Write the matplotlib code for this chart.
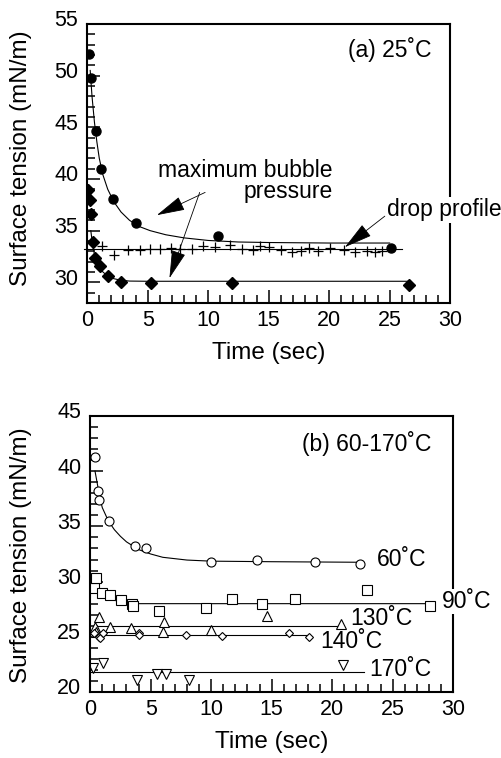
import matplotlib
matplotlib.use('Agg')
import matplotlib.pyplot as plt
import matplotlib.transforms as mtransforms
from matplotlib.ticker import MultipleLocator

plt.rcParams['font.family'] = ['Liberation Sans', 'DejaVu Sans']

# ---- panel (a), 25 C ----
# maximum bubble pressure, filled circles
circ_t = [0.19, 0.3, 0.74, 1.13, 2.1, 4.0, 10.8, 25.1]
circ_y = [52.1, 49.8, 44.6, 41.0, 38.1, 35.7, 34.5, 33.3]
circ_fit_t = [0.25, 0.4, 0.6, 0.8, 1.0, 1.3, 1.7, 2.2, 2.8, 3.5, 4.3, 5.2,
              6.5, 8.0, 10, 12.5, 15, 20, 25]
circ_fit_y = [50.5, 48.0, 45.5, 43.6, 42.0, 40.4, 39.0, 37.8, 36.8, 36.0,
              35.4, 35.0, 34.6, 34.3, 34.05, 33.9, 33.85, 33.8, 33.8]

# maximum bubble pressure, filled diamonds
diam_t = [0.1, 0.2, 0.35, 0.5, 0.66, 1.07, 1.7, 2.8, 5.3, 12.0, 26.6]
diam_y = [38.9, 38.0, 36.6, 33.9, 32.4, 31.6, 30.6, 30.05, 29.95, 29.95, 29.75]
diam_fit_t = [0.3, 0.45, 0.6, 0.8, 1.0, 1.3, 1.7, 2.2, 2.8, 3.5, 5.0, 26.6]
diam_fit_y = [35.0, 33.6, 32.7, 32.0, 31.5, 31.0, 30.6, 30.35, 30.2, 30.12,
              30.1, 30.1]

# drop profile, plus signs
plus_t = [1.2, 2.2, 3.4, 4.4, 5.2, 6.0, 6.9, 7.7, 8.65, 9.6, 10.6, 11.8, 12.8,
          13.7, 14.3, 15.0, 16.0, 16.9, 17.7, 18.3, 19.1, 20.1, 21.2, 22.1,
          23.1, 23.8, 24.4]
plus_y = [33.5, 32.6, 33.1, 33.1, 33.2, 33.2, 33.3, 33.2, 33.2, 33.5, 33.4,
          33.6, 33.2, 33.1, 33.5, 33.4, 33.1, 32.9, 33.0, 33.3, 33.0, 33.3,
          33.1, 32.9, 33.0, 32.9, 33.0]
plus_fit_t = [-0.3, 26.0]
plus_fit_y = [33.25, 33.25]

# ---- panel (b), 60-170 C ----
c60_t = [0.41, 0.63, 0.77, 1.52, 3.72, 4.63, 10.0, 13.8, 18.6, 22.3]
c60_y = [41.3, 38.2, 37.4, 35.5, 33.2, 33.0, 31.75, 31.95, 31.75, 31.6]
c60_fit_t = [0.4, 0.6, 0.8, 1.0, 1.5, 2.0, 2.5, 3.0, 4.0, 5.0, 6.0, 8.0, 10,
             15, 22.3]
c60_fit_y = [40.0, 38.8, 37.6, 36.7, 35.5, 34.7, 34.1, 33.6, 32.9, 32.5, 32.2,
             31.95, 31.85, 31.8, 31.75]

c90_t = [0.28, 0.47, 0.97, 1.6, 2.56, 3.44, 3.5, 5.65, 9.6, 11.7, 14.2, 16.9,
         22.9, 28.1]
c90_y = [29.4, 30.3, 29.0, 28.8, 28.3, 28.0, 27.8, 27.3, 27.6, 28.4, 28.0,
         28.4, 29.2, 27.75]
c90_fit_t = [0.3, 0.6, 1.0, 1.5, 2.0, 3.0, 4.0, 27.8]
c90_fit_y = [29.6, 29.2, 28.8, 28.5, 28.3, 28.1, 28.0, 28.0]

c130_t = [0.36, 0.5, 0.77, 1.6, 3.4, 6.1, 6.05, 10.0, 14.6, 20.7]
c130_y = [25.9, 25.4, 26.8, 25.9, 25.8, 26.3, 25.4, 25.6, 26.9, 26.2]
c130_fit_t = [0.2, 20.6]
c130_fit_y = [26.0, 26.0]

c140_t = [0.28, 0.69, 0.83, 1.1, 4.0, 4.05, 7.9, 10.9, 16.4, 18.1]
c140_y = [25.3, 25.0, 24.9, 25.3, 25.3, 25.2, 25.2, 25.1, 25.3, 25.0]
c140_fit_t = [0.2, 18.1]
c140_fit_y = [25.15, 25.15]

c170_t = [0.22, 1.05, 3.86, 5.5, 6.3, 8.2, 20.9]
c170_y = [22.2, 22.6, 21.1, 21.6, 21.6, 21.1, 22.4]
c170_fit_t = [0.0, 22.6]
c170_fit_y = [21.8, 21.8]


def style_axes(fig, ax, ylim):
    """box, inward ticks and label placement shared by both panels"""
    ax.set_xlim(0, 30)
    ax.set_ylim(*ylim)
    ax.xaxis.set_major_locator(MultipleLocator(5))
    ax.xaxis.set_minor_locator(MultipleLocator(1))
    ax.yaxis.set_major_locator(MultipleLocator(5))
    ax.yaxis.set_minor_locator(MultipleLocator(1))
    ax.tick_params(which='both', direction='in', top=False, right=False,
                   width=1.1, labelsize=15.5)
    ax.tick_params(which='major', length=9.5)
    ax.tick_params(axis='x', which='major', pad=5)
    ax.tick_params(axis='y', which='major', pad=6.5)
    ax.tick_params(which='minor', length=5.5)
    for sp in ax.spines.values():
        sp.set_linewidth(1.5)

    ax.set_xlabel('Time (sec)', fontsize=17.5)
    ax.set_ylabel('Surface tension (mN/m)', fontsize=17.5)

    # y tick labels sit a little above their ticks in the original
    offset = mtransforms.ScaledTranslation(0, 4 / 72, fig.dpi_scale_trans)
    for tick in ax.yaxis.get_major_ticks():
        tick.label1.set_transform(tick.label1.get_transform() + offset)


def arrow(ax, tip, tail):
    ax.annotate('', xy=tip, xytext=tail,
                arrowprops=dict(arrowstyle='-|>,head_length=1.5,head_width=0.38',
                                color='black', lw=0.6, shrinkA=0, shrinkB=0,
                                mutation_scale=12))


def main():
    fig = plt.figure(figsize=(5.01, 7.58), dpi=100)

    # panel (a)
    ax = fig.add_axes([0.174, 0.6003, 0.7245, 0.3681])
    style_axes(fig, ax, (28, 55))
    ax.xaxis.set_label_coords(0.5, -0.14)
    ax.yaxis.set_label_coords(-0.152, 0.518)

    ax.plot(circ_fit_t, circ_fit_y, color='black', lw=0.8)
    ax.plot(diam_fit_t, diam_fit_y, color='black', lw=0.8)
    ax.plot(plus_fit_t, plus_fit_y, color='black', lw=0.8, clip_on=False)
    ax.plot(circ_t, circ_y, 'o', color='black', ms=6.5)
    ax.plot(diam_t, diam_y, 'D', color='black', ms=5.8)
    ax.plot(plus_t, plus_y, '+', color='black', ms=7, mew=0.9)

    ax.text(28.5, 52.5, '(a) 25˚C', ha='right', va='center', fontsize=16.5)
    ax.text(20.3, 39.8, 'maximum bubble\npressure', ha='right', va='center',
            multialignment='right', fontsize=16.5, linespacing=0.9)
    arrow(ax, (5.76, 36.5), (9.75, 38.7))
    arrow(ax, (6.8, 30.4), (9.3, 38.7))
    ax.text(24.8, 37.0, 'drop profile', ha='left', va='center', fontsize=16.5,
            bbox=dict(boxstyle='square,pad=0.05', facecolor='white',
                      edgecolor='none'), clip_on=False, zorder=5)
    arrow(ax, (21.3, 33.4), (24.6, 36.4))

    # panel (b)
    bx = fig.add_axes([0.180, 0.0871, 0.7245, 0.3641])
    style_axes(fig, bx, (20, 45))
    bx.xaxis.set_label_coords(0.5, -0.141)
    bx.yaxis.set_label_coords(-0.160, 0.495)

    open_mk = dict(color='black', mfc='white', lw=0.8, mew=0.8)
    bx.plot(c60_fit_t, c60_fit_y, color='black', lw=0.8)
    bx.plot(c90_fit_t, c90_fit_y, color='black', lw=0.8)
    bx.plot(c130_fit_t, c130_fit_y, color='black', lw=0.8)
    bx.plot(c140_fit_t, c140_fit_y, color='black', lw=0.8)
    bx.plot(c170_fit_t, c170_fit_y, color='black', lw=0.8)
    bx.plot(c60_t, c60_y, 'o', ms=6.5, ls='none', **open_mk)
    bx.plot(c90_t, c90_y, 's', ms=7, ls='none', **open_mk)
    bx.plot(c130_t, c130_y, '^', ms=7, ls='none', **open_mk)
    bx.plot(c140_t, c140_y, 'D', ms=4.5, ls='none', **open_mk)
    bx.plot(c170_t, c170_y, 'v', ms=7, ls='none', **open_mk)

    bx.text(28.2, 42.5, '(b) 60-170˚C', ha='right', va='center', fontsize=16.5)
    bx.text(23.7, 31.96, '60˚C', ha='left', va='center', fontsize=16.5)
    bx.text(29.1, 28.2, '90˚C', ha='left', va='center', fontsize=16.5,
            bbox=dict(boxstyle='square,pad=0.05', facecolor='white',
                      edgecolor='none'), clip_on=False, zorder=5)
    bx.text(21.5, 26.68, '130˚C', ha='left', va='center', fontsize=16.5)
    bx.text(19.0, 24.55, '140˚C', ha='left', va='center', fontsize=16.5)
    bx.text(23.1, 22.0, '170˚C', ha='left', va='center', fontsize=16.5)

    fig.savefig('out.png', dpi=100)


if __name__ == '__main__':
    main()
